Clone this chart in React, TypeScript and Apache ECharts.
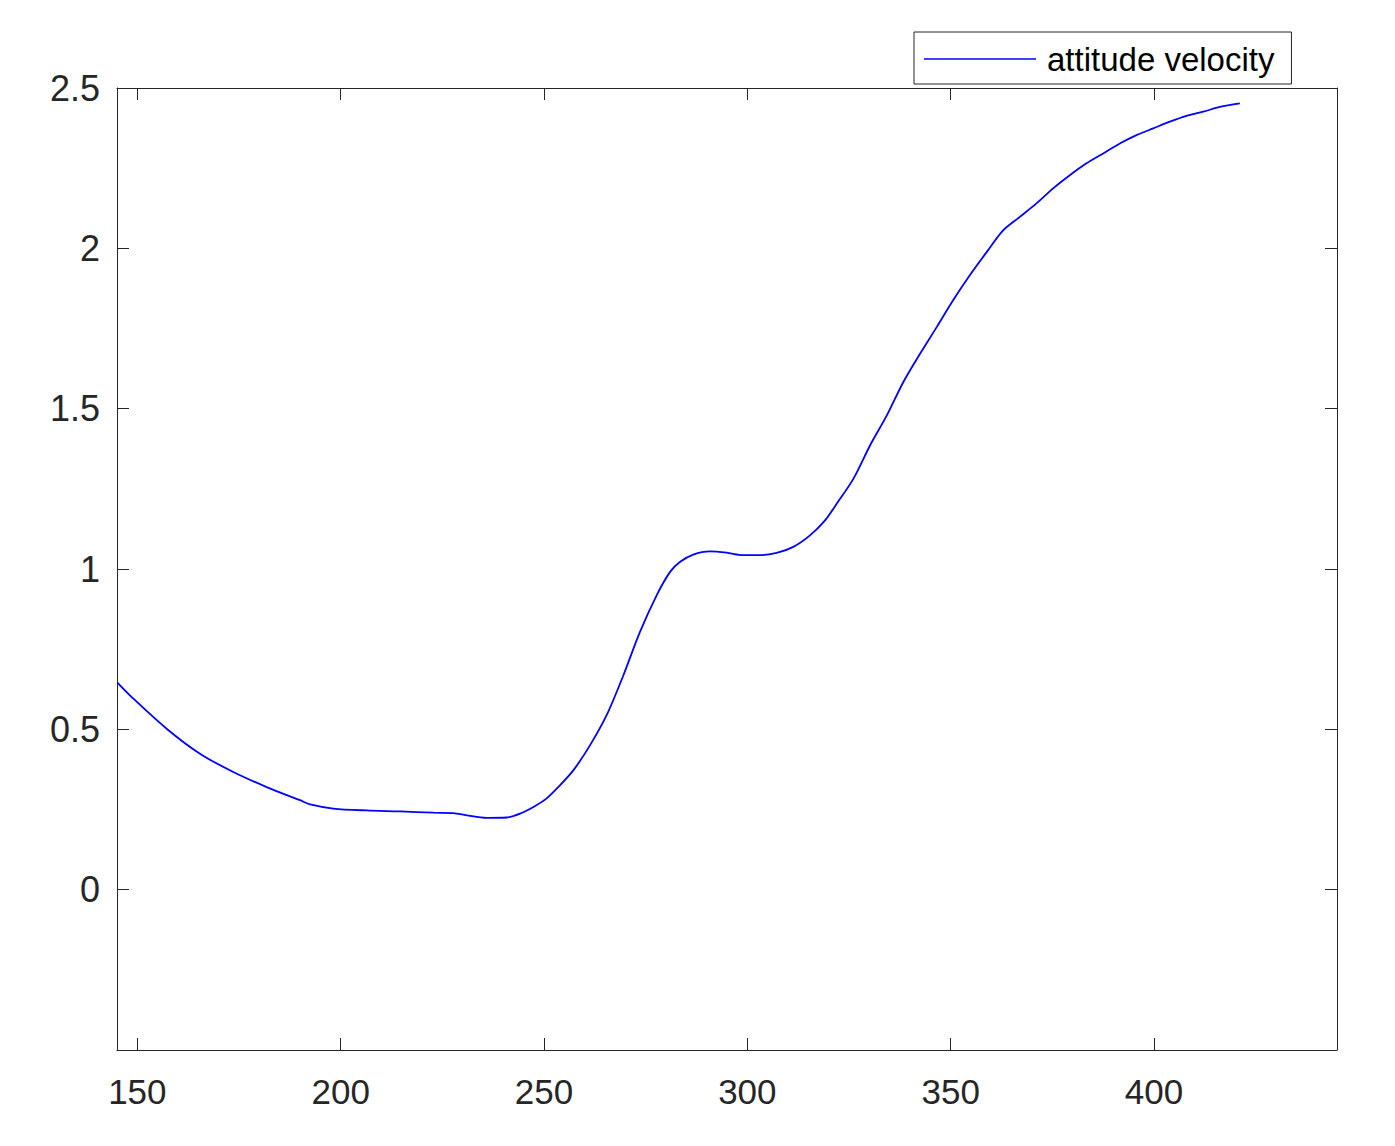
import React, { useEffect, useRef } from "react";
import * as echarts from "echarts";

const seriesName = "attitude velocity";

const xValues = [
  145.1, 149.0, 157.2, 165.4, 173.6, 181.8, 190.0, 192.5, 198.2, 206.4, 214.6,
  222.8, 227.7, 231.0, 235.9, 240.8, 244.1, 247.4, 250.5, 253.5, 257.2, 261.3,
  265.4, 269.5, 273.6, 277.7, 281.0, 283.4, 286.7, 290.8, 294.9, 299.0, 303.1,
  307.2, 311.3, 315.4, 319.0, 322.0, 326.1, 330.2, 334.3, 338.4, 342.5, 346.6,
  350.6, 354.7, 358.9, 362.9, 367.0, 371.1, 375.2, 379.3, 383.4, 387.5, 391.6,
  395.7, 399.8, 403.9, 408.0, 412.1, 416.2, 421.1,
];

const yValues = [
  0.646, 0.596, 0.502, 0.424, 0.367, 0.32, 0.279, 0.266, 0.253, 0.247, 0.244,
  0.24, 0.239, 0.232, 0.224, 0.225, 0.237, 0.258, 0.283, 0.32, 0.372, 0.45,
  0.544, 0.668, 0.804, 0.918, 0.991, 1.022, 1.045, 1.055, 1.051, 1.043, 1.043,
  1.05, 1.069, 1.105, 1.15, 1.204, 1.282, 1.386, 1.479, 1.584, 1.672, 1.755,
  1.838, 1.916, 1.989, 2.056, 2.098, 2.14, 2.187, 2.228, 2.265, 2.296, 2.327,
  2.353, 2.374, 2.395, 2.413, 2.426, 2.441, 2.452,
];

const xTicks = [150, 200, 250, 300, 350, 400];
const yTicks = [0, 0.5, 1, 1.5, 2, 2.5];

const X_MIN = 145;
const X_MAX = 445;
const Y_MIN = -0.5;
const Y_MAX = 2.5;

const AXIS_COLOR = "#262626";
const FONT = "'Liberation Sans', Arial, Helvetica, sans-serif";

export default function App() {
  const ref = useRef<HTMLDivElement>(null);

  useEffect(() => {
    document.body.style.margin = "0";
    if (!ref.current) return;
    const chart = echarts.init(ref.current, null, { renderer: "svg" });

    const axisLineStyle = { color: AXIS_COLOR, width: 1 };
    const tickStyle = { color: AXIS_COLOR, width: 1 };

    chart.setOption({
      animation: false,
      backgroundColor: "#ffffff",
      textStyle: { fontFamily: FONT },
      grid: { left: 117, right: 58, top: 88, bottom: 96, containLabel: false },
      legend: {
        show: true,
        data: [seriesName],
        left: 914,
        top: 32,
        orient: "horizontal",
        icon: "rect",
        itemWidth: 112,
        itemHeight: 1.6,
        itemStyle: { color: "#0000ff", borderWidth: 0 },
        padding: [10, 17, 8, 10],
        borderColor: AXIS_COLOR,
        borderWidth: 1,
        backgroundColor: "#ffffff",
        selectedMode: false,
        textStyle: {
          fontSize: 33,
          color: "#000000",
          fontFamily: FONT,
          lineHeight: 34,
          padding: [0, 0, 0, 6],
        },
      },
      xAxis: [
        {
          type: "value",
          position: "bottom",
          min: X_MIN,
          max: X_MAX,
          axisLine: { show: true, onZero: false, lineStyle: axisLineStyle },
          axisTick: {
            show: true,
            inside: true,
            length: 12,
            customValues: xTicks,
            lineStyle: tickStyle,
          },
          axisLabel: {
            show: true,
            customValues: xTicks,
            margin: 24,
            fontSize: 35,
            color: AXIS_COLOR,
            fontFamily: FONT,
          },
          splitLine: { show: false },
        },
        {
          type: "value",
          position: "top",
          min: X_MIN,
          max: X_MAX,
          axisLine: { show: true, onZero: false, lineStyle: axisLineStyle },
          axisTick: {
            show: true,
            inside: true,
            length: 12,
            customValues: xTicks,
            lineStyle: tickStyle,
          },
          axisLabel: { show: false },
          splitLine: { show: false },
        },
      ],
      yAxis: [
        {
          type: "value",
          position: "left",
          min: Y_MIN,
          max: Y_MAX,
          axisLine: { show: true, onZero: false, lineStyle: axisLineStyle },
          axisTick: {
            show: true,
            inside: true,
            length: 12,
            customValues: yTicks,
            lineStyle: tickStyle,
          },
          axisLabel: {
            show: true,
            customValues: yTicks,
            margin: 17,
            fontSize: 36,
            color: AXIS_COLOR,
            fontFamily: FONT,
          },
          splitLine: { show: false },
        },
        {
          type: "value",
          position: "right",
          min: Y_MIN,
          max: Y_MAX,
          axisLine: { show: true, onZero: false, lineStyle: axisLineStyle },
          axisTick: {
            show: true,
            inside: true,
            length: 12,
            customValues: yTicks,
            lineStyle: tickStyle,
          },
          axisLabel: { show: false },
          splitLine: { show: false },
        },
      ],
      series: [
        {
          name: seriesName,
          type: "line",
          xAxisIndex: 0,
          yAxisIndex: 0,
          data: xValues.map((x, i) => [x, yValues[i]]),
          symbol: "none",
          showSymbol: false,
          smooth: 0.3,
          lineStyle: { color: "#0000ff", width: 1.8 },
          itemStyle: { color: "#0000ff" },
          clip: true,
        },
      ],
    });

    return () => {
      chart.dispose();
    };
  }, []);

  return <div ref={ref} style={{ width: 1395, height: 1146 }} />;
}
